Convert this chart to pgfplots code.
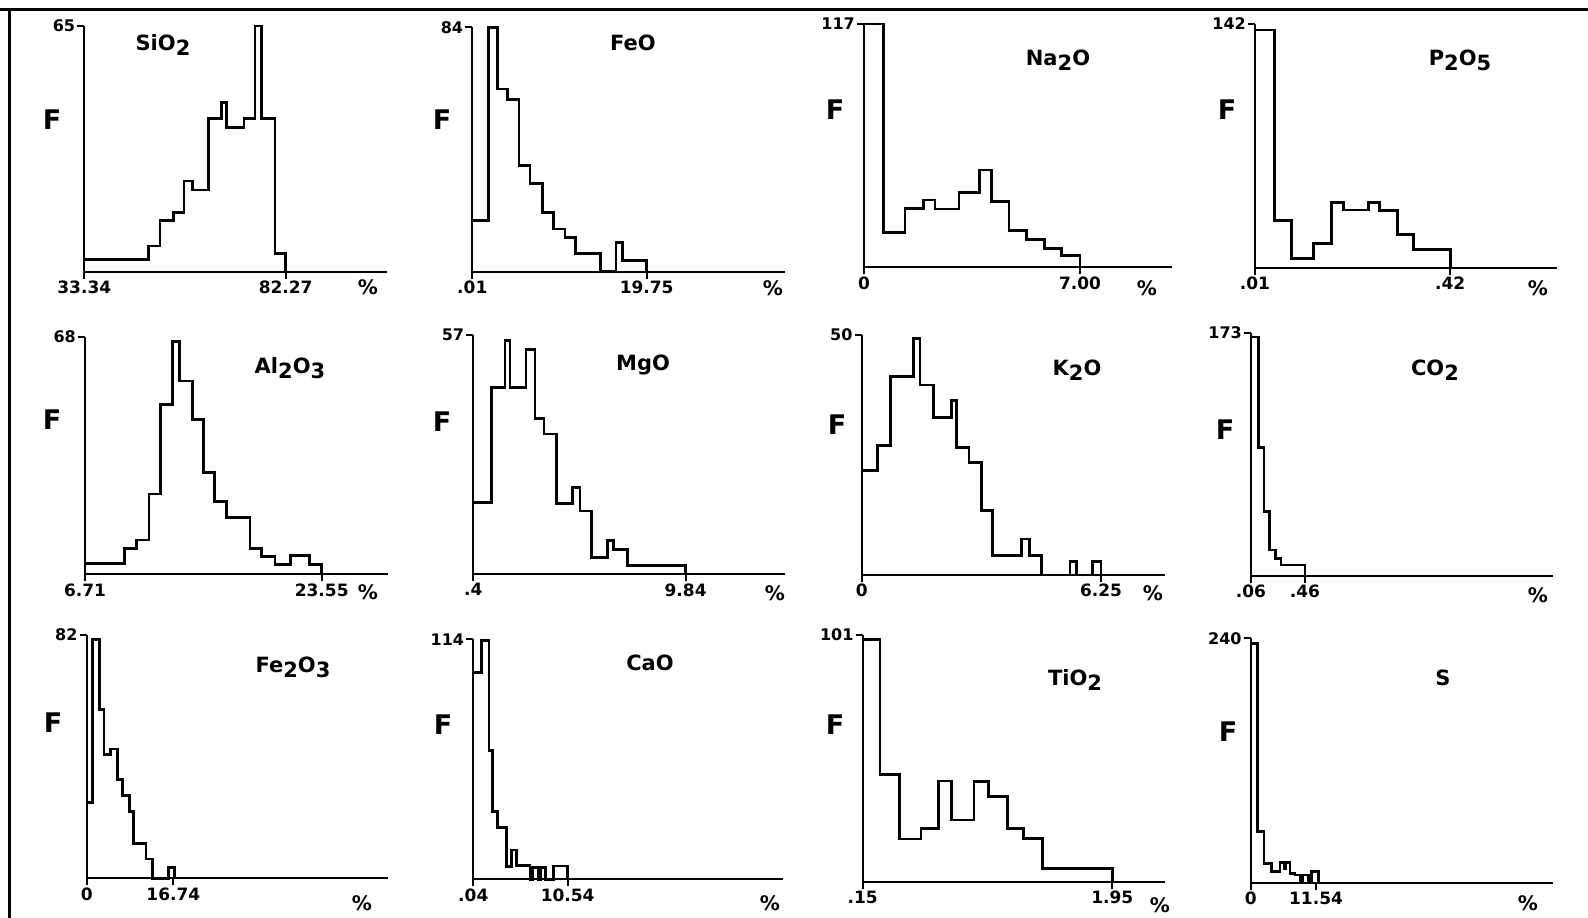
\documentclass[border=0pt]{standalone}
\usepackage{pgfplots}
\pgfplotsset{compat=1.18}
\usepackage{fontspec}
\setmainfont{DejaVu Sans}
\newcommand\sub[1]{\raisebox{-0.45ex}{#1}}
\newcommand\ttl{\fontsize{21}{21}\selectfont\bfseries}
\newcommand\flab{\fontsize{27}{27}\selectfont\bfseries}
\newcommand\pct{\fontsize{20}{20}\selectfont\bfseries}

\pgfplotsset{
  hist/.style={
    scale only axis,
    axis x line*=bottom, axis y line*=left,
    ymin=0, clip=false,
    axis line style={line width=2.2pt, black},
    every tick/.style={line width=2.2pt, black},
    major tick length=7pt, tick align=outside,
    xticklabel style={font=\fontsize{17}{17}\selectfont\bfseries, inner sep=2pt},
    yticklabel style={font=\fontsize{16}{16}\selectfont\bfseries, inner sep=2pt},
    anchor=south west,
  },
  step/.style={const plot mark left, line width=2.8pt, black, mark=none},
}

\begin{document}
\begin{tikzpicture}[x=1pt, y=-1pt]
\path[use as bounding box] (0,0) rectangle (1588,918);
% page frame
\draw[line width=3pt] (0,9) -- (1588,9);
\draw[line width=3pt] (9,9) -- (9,918);

% ---------- row 1 ----------
\begin{axis}[hist, at={(84.3pt,-271.7pt)}, width=302.4pt, height=245.7pt,
  xmin=33.34, xmax=106.82, ymax=65,
  xtick={33.34,82.27}, xticklabels={33.34,82.27}, ytick={65}, yticklabels={65}]
  \addplot[step] coordinates {(33.34,3.3) (48.89,6.8) (51.73,13.5) (54.97,15.7) (57.56,24.0) (59.59,21.6) (63.48,40.6) (66.72,44.7) (67.93,38.2) (72.14,40.6) (74.82,65) (76.44,40.6) (79.68,4.9) (82.27,0)};
\end{axis}

\begin{axis}[hist, at={(472.3pt,-271.7pt)}, width=312.7pt, height=244.4pt,
  xmin=0.01, xmax=35.41, ymax=84,
  xtick={0.01,19.75}, xticklabels={.01,19.75}, ytick={84}, yticklabels={84}]
  \addplot[step] coordinates {(0.01,17.5) (1.82,84) (2.84,62.8) (3.97,59.2) (5.29,36.4) (6.54,30.4) (7.97,20.3) (9.18,14.7) (10.50,11.7) (11.71,6.3) (14.54,0) (16.28,10.0) (17.03,3.8) (19.75,0)};
\end{axis}

\begin{axis}[hist, at={(864pt,-267.3pt)}, width=307.7pt, height=243.3pt,
  xmin=0, xmax=9.97, ymax=117,
  xtick={0,7}, xticklabels={0,7.00}, ytick={117}, yticklabels={117}]
  \addplot[step] coordinates {(0,117) (0.63,16.7) (1.33,28.4) (1.94,32.4) (2.30,28.0) (3.08,36.1) (3.73,46.8) (4.12,31.6) (4.70,17.6) (5.27,13.5) (5.84,9.1) (6.41,5.6) (7.00,0)};
\end{axis}

\begin{axis}[hist, at={(1255pt,-267.7pt)}, width=301.7pt, height=243.7pt,
  xmin=0.01, xmax=0.644, ymax=142,
  xtick={0.01,0.42}, xticklabels={.01,.42}, ytick={142}, yticklabels={142}]
  \addplot[step] coordinates {(0.01,138.5) (0.051,27.4) (0.087,5.4) (0.133,14.2) (0.171,37.9) (0.196,33.6) (0.248,37.9) (0.271,33.2) (0.309,19.4) (0.343,10.7) (0.42,0)};
\end{axis}

% ---------- row 2 ----------
\begin{axis}[hist, at={(85pt,-574.3pt)}, width=303.3pt, height=237.6pt,
  xmin=6.71, xmax=28.29, ymax=68,
  xtick={6.71,23.55}, xticklabels={6.71,23.55}, ytick={68}, yticklabels={68}]
  \addplot[step] coordinates {(6.71,3.0) (9.51,7.4) (10.39,9.8) (11.26,23.0) (12.09,48.6) (12.95,66.6) (13.42,55.3) (14.35,44.4) (15.13,29.2) (15.91,20.8) (16.79,16.3) (18.45,7.4) (19.28,5.1) (20.23,2.7) (21.34,5.3) (22.67,2.7) (23.55,0)};
\end{axis}

\begin{axis}[hist, at={(473.3pt,-574.3pt)}, width=311.7pt, height=239.3pt,
  xmin=0.4, xmax=14.26, ymax=57,
  xtick={0.4,9.84}, xticklabels={.4,9.84}, ytick={57}, yticklabels={57}]
  \addplot[step] coordinates {(0.4,17.1) (1.22,44.5) (1.81,55.7) (2.03,44.5) (2.74,53.6) (3.14,37.2) (3.54,33.4) (4.10,16.9) (4.80,20.7) (5.14,15.1) (5.66,4.0) (6.36,8.0) (6.62,6.0) (7.25,2.1) (9.84,0)};
\end{axis}

\begin{axis}[hist, at={(861.7pt,-575pt)}, width=303.3pt, height=240pt,
  xmin=0, xmax=7.92, ymax=50,
  xtick={0,6.25}, xticklabels={0,6.25}, ytick={50}, yticklabels={50}]
  \addplot[step] coordinates {(0,21.7) (0.42,26.9) (0.76,41.3) (1.35,49.3) (1.52,39.6) (1.87,32.8) (2.35,36.3) (2.48,26.6) (2.80,23.4) (3.13,13.4) (3.42,4.0) (4.18,7.5) (4.38,4.0) (4.70,0) (5.44,2.8) (5.61,0) (6.02,2.8) (6.25,0)};
\end{axis}

\begin{axis}[hist, at={(1251pt,-575.7pt)}, width=302.3pt, height=243pt,
  xmin=0.06, xmax=2.30, ymax=173,
  xtick={0.06,0.46}, xticklabels={.06,.46}, ytick={173}, yticklabels={173}]
  \addplot[step] coordinates {(0.06,170) (0.114,91.1) (0.156,45.6) (0.196,18.3) (0.243,12.3) (0.282,7.6) (0.46,0)};
\end{axis}

% ---------- row 3 ----------
\begin{axis}[hist, at={(86.7pt,-878.3pt)}, width=301.6pt, height=243.3pt,
  xmin=0, xmax=58.27, ymax=82,
  xtick={0,16.74}, xticklabels={0,16.74}, ytick={82}, yticklabels={82}]
  \addplot[step] coordinates {(0,25.6) (1.09,80.5) (2.45,57.0) (3.35,41.6) (4.64,43.6) (5.99,33.4) (6.89,27.9) (8.24,22.5) (9.01,11.8) (11.46,6.5) (12.68,0) (15.77,3.7) (17.0,0)};
\end{axis}

\begin{axis}[hist, at={(473.3pt,-879.3pt)}, width=310pt, height=240pt,
  xmin=0.04, xmax=34.54, ymax=114,
  xtick={0.04,10.54}, xticklabels={.04,10.54}, ytick={114}, yticklabels={114}]
  \addplot[step] coordinates {(0.04,98.2) (0.97,113.4) (1.78,61.0) (2.19,32.1) (2.75,24.7) (3.75,6.0) (4.31,13.9) (4.86,6.5) (6.35,0) (6.64,5.5) (7.27,0) (7.53,5.5) (8.09,0) (8.94,6.3) (10.54,0)};
\end{axis}

\begin{axis}[hist, at={(862.7pt,-881.7pt)}, width=302.3pt, height=246.7pt,
  xmin=0.15, xmax=2.33, ymax=101,
  xtick={0.15,1.95}, xticklabels={.15,1.95}, ytick={101}, yticklabels={101}]
  \addplot[step] coordinates {(0.15,99.2) (0.275,43.9) (0.414,17.5) (0.571,21.8) (0.696,41.2) (0.792,25.3) (0.953,40.9) (1.056,34.8) (1.193,21.8) (1.308,17.7) (1.448,5.5) (1.95,0)};
\end{axis}

\begin{axis}[hist, at={(1250.7pt,-882.7pt)}, width=302pt, height=244.4pt,
  xmin=0, xmax=53.34, ymax=240,
  xtick={0,11.54}, xticklabels={0,11.54}, ytick={240}, yticklabels={240}]
  \addplot[step] coordinates {(0,235) (1.18,50.1) (2.36,19.0) (3.71,10.8) (5.18,20.0) (5.89,14) (6.24,20.0) (6.95,9.2) (7.83,7.5) (8.71,0) (9.13,7.5) (10.19,0) (10.78,10.8) (11.95,0)};
\end{axis}

% ---------- titles ----------
\node[font=\ttl] at (163,45) {SiO\sub{2}};
\node[font=\ttl] at (633,43) {FeO};
\node[font=\ttl] at (1058,60) {Na\sub{2}O};
\node[font=\ttl] at (1460,60) {P\sub{2}O\sub{5}};
\node[font=\ttl] at (290,368) {Al\sub{2}O\sub{3}};
\node[font=\ttl] at (643,365) {MgO};
\node[font=\ttl] at (1077,370) {K\sub{2}O};
\node[font=\ttl] at (1435,370) {CO\sub{2}};
\node[font=\ttl] at (293,667) {Fe\sub{2}O\sub{3}};
\node[font=\ttl] at (650,663) {CaO};
\node[font=\ttl] at (1075,680) {TiO\sub{2}};
\node[font=\ttl] at (1443,678) {S};

% ---------- F labels ----------
\foreach \p in {(52,120),(442,120),(835,110),(1227,110),(52,420),(442,422),(837,425),(1225,430),(53,723),(443,725),(835,725),(1228,732)}
  \node[font=\flab] at \p {F};

% ---------- % labels ----------
\foreach \p in {(368,287),(773,288),(1147,288),(1538,288),(368,592),(775,593),(1153,593),(1538,595),(362,903),(770,903),(1160,905),(1528,903)}
  \node[font=\pct] at \p {\%};
\end{tikzpicture}
\end{document}
